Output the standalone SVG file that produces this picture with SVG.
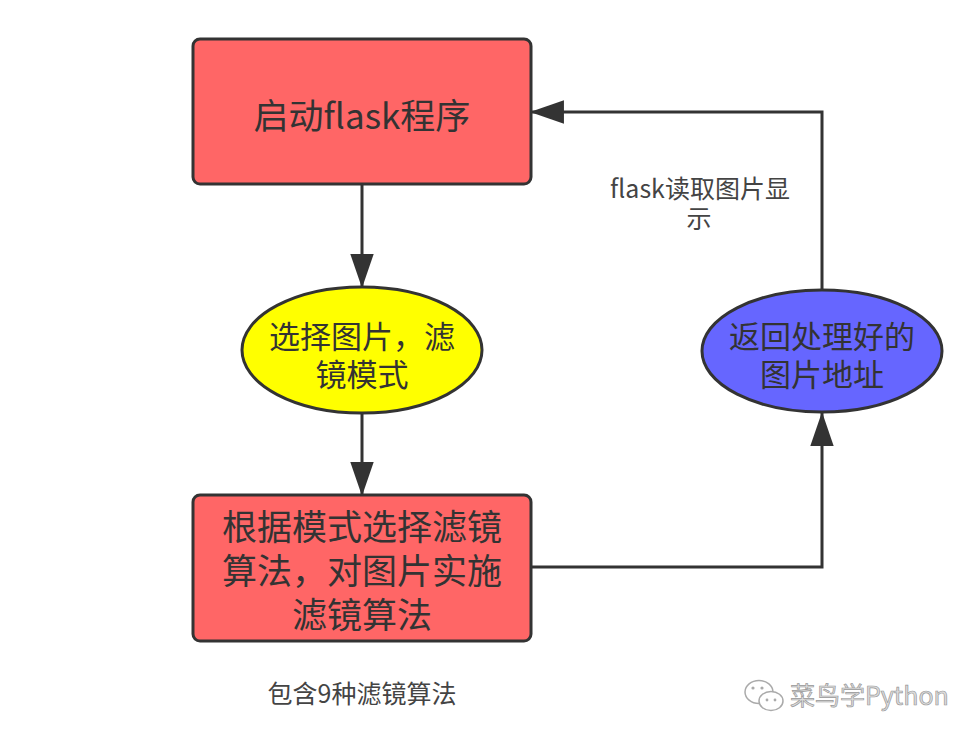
<svg xmlns="http://www.w3.org/2000/svg" width="976" height="744" viewBox="0 0 976 744">
  <defs>
    <marker id="arrow" markerUnits="userSpaceOnUse" markerWidth="34" markerHeight="24" viewBox="0 0 32 22" refX="31" refY="11" orient="auto">
      <path d="M0,0 L32,11 L0,22 z" fill="#333333"/>
    </marker>
    <style>
      .shape { stroke: #333333; stroke-width: 3; }
      .red { fill: #FF6666; }
      .yellow { fill: #FFFF00; }
      .blue { fill: #6666FF; }
      .t { font-family: "Noto Sans CJK SC", "Noto Sans", sans-serif; fill: #333333; text-anchor: middle; }
      .big { font-size: 35px; }
      .mid { font-size: 31px; }
      .small { font-size: 25px; fill: #444444; }
      .conn { fill: none; stroke: #333333; stroke-width: 3; marker-end: url(#arrow); }
    </style>
  </defs>
  <rect width="976" height="744" fill="#ffffff"/>

  <g id="connectors">
    <path class="conn" d="M362,184 V287"/>
    <path class="conn" d="M362,413 V495"/>
    <path class="conn" d="M531,567 H822 V413"/>
    <path class="conn" d="M822,290 V112 H531"/>
  </g>

  <g id="start">
    <rect class="shape red" x="193" y="39" width="338" height="145" rx="7"/>
    <text class="t big" x="362" y="129">启动flask程序</text>
  </g>

  <g id="select">
    <ellipse class="shape yellow" cx="362" cy="350" rx="120" ry="63"/>
    <text class="t mid"><tspan x="362" y="348">选择图片，滤</tspan><tspan x="362" y="386">镜模式</tspan></text>
  </g>

  <g id="apply">
    <rect class="shape red" x="193" y="495" width="338" height="146" rx="7"/>
    <text class="t big"><tspan x="362" y="540">根据模式选择滤镜</tspan><tspan x="362" y="584">算法，对图片实施</tspan><tspan x="362" y="628">滤镜算法</tspan></text>
  </g>

  <g id="return">
    <ellipse class="shape blue" cx="822" cy="351" rx="120" ry="61"/>
    <text class="t mid"><tspan x="822" y="348">返回处理好的</tspan><tspan x="822" y="386">图片地址</tspan></text>
  </g>

  <g id="label-flask">
    <text class="t small"><tspan x="700" y="198">flask读取图片显</tspan><tspan x="699" y="228">示</tspan></text>
  </g>

  <g id="label-filters">
    <text class="t small" x="362" y="703">包含9种滤镜算法</text>
  </g>

  <g id="watermark">
    <g fill="#ffffff" stroke="#aaaaaa" stroke-width="1.5">
      <ellipse cx="759" cy="692" rx="14" ry="11.5"/>
      <ellipse cx="771" cy="701" rx="12" ry="9.5"/>
    </g>
    <g fill="#aaaaaa">
      <circle cx="753" cy="688" r="1.6"/>
      <circle cx="762" cy="688" r="1.6"/>
      <circle cx="767" cy="700" r="1.4"/>
      <circle cx="775" cy="700" r="1.4"/>
    </g>
    <text x="790" y="705" font-family="Noto Sans CJK SC, Noto Sans, sans-serif" font-size="25" fill="#dddddd" stroke="#999999" stroke-width="0.7">菜鸟学Python</text>
  </g>
</svg>
